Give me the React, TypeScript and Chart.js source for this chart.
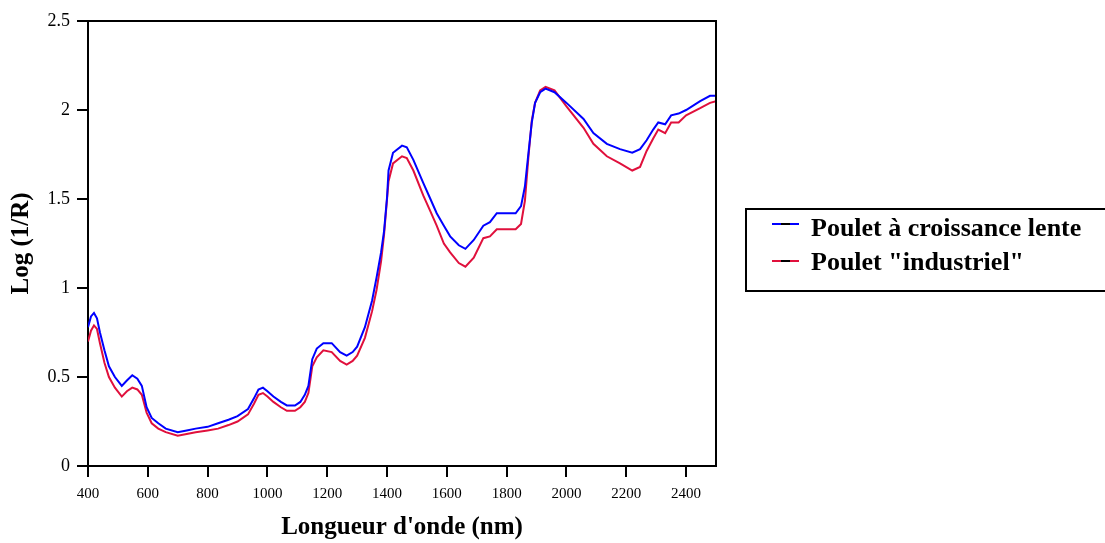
import { useEffect, useRef } from "react";
import { Chart, registerables } from "chart.js";

Chart.register(...registerables);

const wavelengths = [
  400, 410, 420, 430, 440, 455, 470, 490, 513, 530, 548, 565, 580, 596, 613, 635, 660, 700, 730, 760,
  800, 835, 870, 900, 935, 955, 970, 985, 1000, 1020, 1045, 1065, 1092, 1110, 1125, 1137, 1150, 1165,
  1187, 1215, 1243, 1265, 1285, 1300, 1326, 1350, 1365, 1380, 1390, 1400, 1405, 1420, 1450, 1466, 1488,
  1521, 1545, 1566, 1590, 1611, 1640, 1662, 1690, 1722, 1744, 1767, 1830, 1848, 1861, 1873, 1884, 1895,
  1912, 1930, 1960, 2000, 2057, 2090, 2135, 2179, 2220, 2246, 2268, 2290, 2307, 2330, 2350, 2375, 2400,
  2447, 2480, 2500,
];

const slowGrowth = [
  0.78, 0.84, 0.86, 0.83, 0.75, 0.65, 0.56, 0.5, 0.45, 0.48, 0.51, 0.49, 0.45, 0.33, 0.27, 0.24, 0.21, 0.19, 0.2, 0.21,
  0.22, 0.24, 0.26, 0.28, 0.32, 0.38, 0.43, 0.44, 0.42, 0.39, 0.36, 0.34, 0.34, 0.36, 0.4, 0.45, 0.6, 0.66,
  0.69, 0.69, 0.64, 0.62, 0.64, 0.67, 0.78, 0.93, 1.06, 1.2, 1.32, 1.51, 1.66, 1.76, 1.8, 1.79, 1.72,
  1.59, 1.5, 1.42, 1.35, 1.29, 1.24, 1.22, 1.27, 1.35, 1.37, 1.42, 1.42, 1.46, 1.57, 1.76, 1.93, 2.04,
  2.1, 2.12, 2.1, 2.04, 1.95, 1.87, 1.81, 1.78, 1.76, 1.78, 1.83, 1.89, 1.93, 1.92, 1.97, 1.98, 2.0,
  2.05, 2.08, 2.08,
];

const industrial = [
  0.7, 0.76, 0.79, 0.77, 0.69, 0.58, 0.5, 0.44, 0.39, 0.42, 0.44, 0.43, 0.4, 0.3, 0.24, 0.21, 0.19, 0.17, 0.18, 0.19,
  0.2, 0.21, 0.23, 0.25, 0.29, 0.35, 0.4, 0.41, 0.39, 0.36, 0.33, 0.31, 0.31, 0.33, 0.36, 0.41, 0.56, 0.61,
  0.65, 0.64, 0.59, 0.57, 0.59, 0.62, 0.72, 0.87, 0.99, 1.15, 1.3, 1.5, 1.6, 1.7, 1.74, 1.73, 1.66,
  1.52, 1.43, 1.35, 1.25, 1.2, 1.14, 1.12, 1.17, 1.28, 1.29, 1.33, 1.33, 1.36, 1.49, 1.74, 1.94, 2.04,
  2.11, 2.13, 2.11, 2.02, 1.9, 1.81, 1.74, 1.7, 1.66, 1.68, 1.77, 1.84, 1.89, 1.87, 1.93, 1.93, 1.97,
  2.01, 2.04, 2.05,
];

const xTickValues = [400, 600, 800, 1000, 1200, 1400, 1600, 1800, 2000, 2200, 2400];
const yTickValues = [0, 0.5, 1, 1.5, 2, 2.5];

const seriesLabels = ["Poulet à croissance lente", 'Poulet "industriel"'];
const seriesColors = ["#0000ff", "#e0103c"];

const FONT = "'Liberation Serif', 'Times New Roman', serif";

const framePlugin = {
  id: "frame",
  afterDraw(chart: any) {
    const { ctx, chartArea } = chart;
    ctx.save();
    ctx.strokeStyle = "#000";
    ctx.lineWidth = 2;
    ctx.beginPath();
    ctx.moveTo(chartArea.left, chartArea.top);
    ctx.lineTo(chartArea.right, chartArea.top);
    ctx.lineTo(chartArea.right, chartArea.bottom);
    ctx.stroke();
    ctx.restore();
  },
};

export default function App() {
  const canvasRef = useRef<HTMLCanvasElement>(null);

  useEffect(() => {
    document.body.style.margin = "0";
    const canvas = canvasRef.current;
    if (!canvas) return;
    const chart = new Chart(canvas, {
      type: "line",
      data: {
        datasets: [slowGrowth, industrial].map((vals, k) => ({
          label: seriesLabels[k],
          data: wavelengths.map((x, i) => ({ x, y: vals[i] })),
          borderColor: seriesColors[k],
          backgroundColor: seriesColors[k],
          borderWidth: 2,
          pointRadius: 0,
          tension: 0,
          fill: false,
        })),
      },
      options: {
        responsive: false,
        animation: false,
        layout: { padding: { left: 0, top: 21, right: 389, bottom: 0 } },
        plugins: { legend: { display: false }, tooltip: { enabled: false } },
        scales: {
          x: {
            type: "linear",
            min: 400,
            max: 2500,
            afterBuildTicks: (s: any) => {
              s.ticks = xTickValues.map((v) => ({ value: v }));
            },
            afterFit: (s: any) => {
              s.height = 77;
            },
            ticks: {
              font: { family: FONT, size: 15 },
              color: "#000",
              padding: 8,
              maxRotation: 0,
              autoSkip: false,
              callback: (v: any) => String(v),
            },
            grid: { drawOnChartArea: false, drawTicks: true, tickLength: 11, color: "#000", lineWidth: 2 },
            border: { display: true, color: "#000", width: 2 },
            title: {
              display: true,
              text: "Longueur d'onde (nm)",
              color: "#000",
              font: { family: FONT, size: 25, weight: "bold" },
              padding: { top: 4, bottom: 0 },
            },
          },
          y: {
            type: "linear",
            min: 0,
            max: 2.5,
            afterBuildTicks: (s: any) => {
              s.ticks = yTickValues.map((v) => ({ value: v }));
            },
            afterFit: (s: any) => {
              s.width = 88;
            },
            ticks: {
              font: { family: FONT, size: 18 },
              color: "#000",
              padding: 7,
              callback: (v: any) => String(v),
            },
            grid: { drawOnChartArea: false, drawTicks: true, tickLength: 11, color: "#000", lineWidth: 2 },
            border: { display: true, color: "#000", width: 2 },
            title: {
              display: true,
              text: "Log (1/R)",
              color: "#000",
              font: { family: FONT, size: 25, weight: "bold" },
              padding: { top: 7, bottom: 0 },
            },
          },
        },
      } as any,
      plugins: [framePlugin],
    });
    return () => chart.destroy();
  }, []);

  const rowTops = [215, 249];
  const lineTops = [223, 260];

  return (
    <div style={{ position: "relative", width: 1105, height: 543, overflow: "hidden", background: "#fff" }}>
      <canvas ref={canvasRef} width={1105} height={543} style={{ display: "block" }} />
      <div
        style={{
          position: "absolute",
          left: 745,
          top: 208,
          width: 400,
          height: 84,
          border: "2px solid #000",
          boxSizing: "border-box",
        }}
      />
      {seriesLabels.map((label, k) => (
        <div key={label}>
          <div
            style={{
              position: "absolute",
              left: 772,
              top: lineTops[k],
              width: 27,
              height: 2,
              background: seriesColors[k],
            }}
          >
            <div style={{ position: "absolute", left: 9, top: 0, width: 9, height: 2, background: "#000" }} />
          </div>
          <div
            style={{
              position: "absolute",
              left: 811,
              top: rowTops[k],
              font: `bold 26px ${FONT}`,
              lineHeight: "26px",
              whiteSpace: "nowrap",
              color: "#000",
            }}
          >
            {label}
          </div>
        </div>
      ))}
    </div>
  );
}
